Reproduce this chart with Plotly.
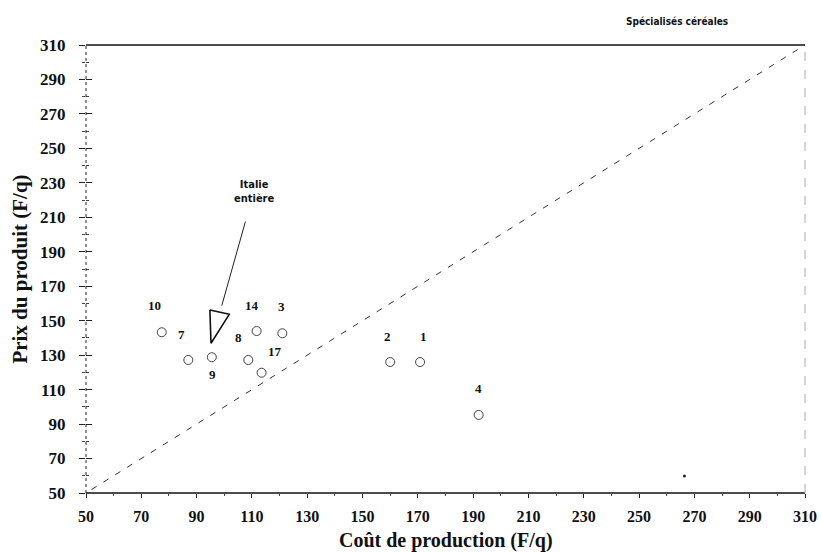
import plotly.graph_objects as go

# Regional farm groups: production cost vs. product price (F/q)
farm_ids = ["1", "2", "3", "4", "7", "8", "9", "10", "14", "17"]
cost = [170.8, 160.0, 121.0, 192.0, 87.0, 108.7, 95.5, 77.4, 111.7, 113.5]
price = [126.0, 126.0, 142.7, 95.3, 127.2, 127.2, 128.8, 143.3, 144.0, 119.8]

# Whole-country reference (outline polygon)
italie_cost = [94.8, 101.8, 95.2, 94.8]
italie_price = [156.2, 153.7, 136.9, 156.2]

# Isolated speck point
speck_cost = [266.4]
speck_price = [59.9]

# Axis ticks
tick_vals = list(range(50, 311, 20))
tick_text = [f"<b>{v}</b>" for v in tick_vals]

# Break-even line (price = cost)
diag = [52, 310]

# Label offsets in pixels (x, y) per farm id
label_shift = {
    "1": (3, 26), "2": (-3, 26), "3": (-1, 27), "4": (0, 26),
    "7": (-7, 25), "8": (-10, 22), "9": (1, -17), "10": (-7, 27),
    "14": (-5, 26), "17": (13, 21),
}

SERIF = "Liberation Serif, Times New Roman, serif"
SANS = "DejaVu Sans Condensed, Liberation Sans Narrow, Arial Narrow, sans-serif"

fig = go.Figure()

fig.add_trace(go.Scatter(
    x=diag, y=diag, mode="lines",
    line=dict(color="#333", width=1, dash="6px,8px"),
    hoverinfo="skip", showlegend=False,
))

fig.add_trace(go.Scatter(
    x=cost, y=price, mode="markers",
    marker=dict(symbol="circle-open", size=9, color="#444",
                line=dict(width=1, color="#444")),
    text=farm_ids, showlegend=False,
))

fig.add_trace(go.Scatter(
    x=italie_cost, y=italie_price, mode="lines",
    line=dict(color="#111", width=1.6),
    showlegend=False, hoverinfo="skip",
))

fig.add_trace(go.Scatter(
    x=speck_cost, y=speck_price, mode="markers",
    marker=dict(size=3, color="#222"), showlegend=False, hoverinfo="skip",
))

annotations = []
for fid, cx, py in zip(farm_ids, cost, price):
    dx, dy = label_shift[fid]
    annotations.append(dict(
        x=cx, y=py, text=f"<b>{fid}</b>", showarrow=False,
        xshift=dx, yshift=dy,
        font=dict(family=SERIF, size=13, color="#111"),
    ))

# "Italie entière" callout with leader line
annotations.append(dict(
    x=99.1, y=158.7, ax=107.8, ay=208.4, axref="x", ayref="y",
    text="", showarrow=True, arrowhead=0, arrowwidth=1, arrowcolor="#222",
))
annotations.append(dict(
    x=110.8, y=224.7, text="<b>Italie<br>entière</b>", showarrow=False,
    font=dict(family=SANS, size=11, color="#111"), align="center",
))

# Panel title
annotations.append(dict(
    x=0.822, y=1.0, xref="paper", yref="paper", xanchor="center", yanchor="bottom",
    yshift=16, text="<b>Spécialisés céréales</b>", showarrow=False,
    font=dict(family=SANS, size=10, color="#111"),
))

# X axis title
annotations.append(dict(
    x=0.5, y=0.0, xref="paper", yref="paper", xanchor="center", yanchor="middle",
    yshift=-47, text="<b>Coût de production (F/q)</b>", showarrow=False,
    font=dict(family=SERIF, size=20, color="#111"),
))

shapes = [
    # top frame (solid)
    dict(type="line", xref="paper", yref="paper", x0=0, x1=1, y0=1, y1=1,
         line=dict(color="#111", width=1.3)),
    # bottom axis (solid)
    dict(type="line", xref="paper", yref="paper", x0=0, x1=1, y0=0, y1=0,
         line=dict(color="#111", width=1.5)),
    # left axis (dotted)
    dict(type="line", xref="paper", yref="paper", x0=0, x1=0, y0=0, y1=1,
         line=dict(color="#222", width=1, dash="dot")),
    # right frame (light dashed)
    dict(type="line", xref="paper", yref="paper", x0=1, x1=1, y0=0, y1=1,
         line=dict(color="#aaa", width=1, dash="dash")),
]

fig.update_layout(
    width=822, height=552,
    margin=dict(l=86, r=17, t=45, b=59, autoexpand=False),
    paper_bgcolor="white", plot_bgcolor="white",
    showlegend=False,
    annotations=annotations,
    shapes=shapes,
    xaxis=dict(
        range=[50, 310], tickvals=tick_vals, ticktext=tick_text, automargin=False,
        showgrid=False, zeroline=False, showline=False,
        ticks="outside", ticklen=4, tickcolor="#222", tickwidth=1,
        minor=dict(dtick=10, tick0=50, ticks="outside", ticklen=2, tickcolor="#444"),
        tickfont=dict(family=SERIF, size=16, color="#111"),
        ticklabelstandoff=5,
    ),
    yaxis=dict(
        range=[50, 310], tickvals=tick_vals, ticktext=tick_text, automargin=False,
        showgrid=False, zeroline=False, showline=False,
        ticks="outside", ticklen=6, tickcolor="#222", tickwidth=1,
        minor=dict(dtick=10, tick0=50, ticks="outside", ticklen=3, tickcolor="#444"),
        tickfont=dict(family=SERIF, size=17, color="#111"),
        ticklabelstandoff=10,
        title=dict(text="<b>Prix du produit (F/q)</b>",
                   font=dict(family=SERIF, size=21, color="#111"), standoff=6),
    ),
    yaxis2=dict(
        range=[50, 310], overlaying="y", side="left", tickvals=tick_vals,
        automargin=False,
        showticklabels=False, showgrid=False, zeroline=False, showline=False,
        ticks="inside", ticklen=6, tickcolor="#222",
        minor=dict(dtick=10, tick0=50, ticks="inside", ticklen=3, tickcolor="#444"),
    ),
)

# invisible trace bound to the overlay axis so its inside ticks render
fig.add_trace(go.Scatter(x=[None], y=[None], yaxis="y2", showlegend=False, hoverinfo="skip"))

fig.write_html("out.html")
